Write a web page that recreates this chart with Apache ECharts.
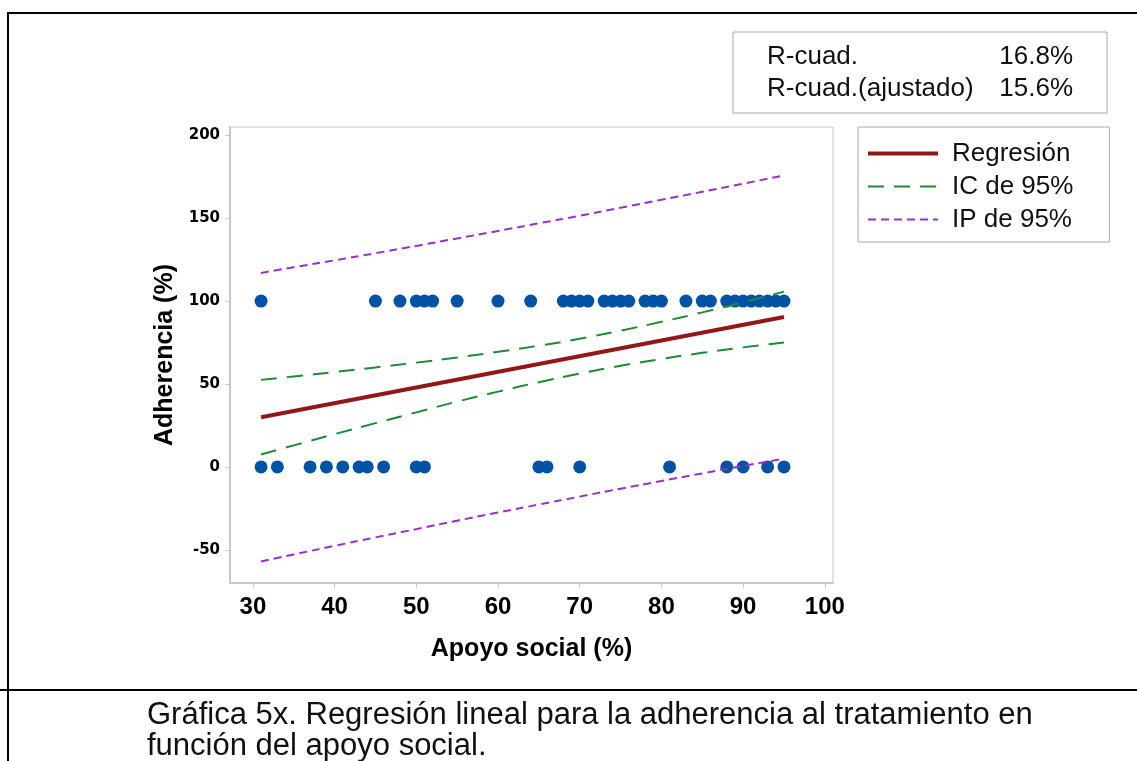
<!DOCTYPE html>
<html>
<head>
<meta charset="utf-8">
<script src="https://cdn.jsdelivr.net/npm/echarts@6/dist/echarts.min.js"></script>
<style>
html,body{margin:0;padding:0;background:#fff;}
#chart{width:1137px;height:761px;}
</style>
</head>
<body>
<div id="chart"></div>
<script>
// ---- data ----
const xTicks = [30, 40, 50, 60, 70, 80, 90, 100];
const yTicks = [-50, 0, 50, 100, 150, 200];

// observations with adherence = 100
const xAt100 = [31, 45, 48, 50, 51, 52, 55, 60, 64, 68, 69, 70, 71, 73, 74, 75, 76, 78, 79, 80, 83, 85, 86, 88, 89, 90, 91, 92, 93, 94, 95];
// observations with adherence = 0
const xAt0 = [31, 33, 37, 39, 41, 43, 44, 46, 50, 51, 65, 66, 70, 81, 88, 90, 93, 95];

// fitted regression line (end points)
const regX = [31, 95];
const regY = [30.0, 90.4];

// confidence / prediction bands
const bandX   = [31, 35, 40, 45, 50, 55, 60, 65, 70, 75, 80, 85, 90, 95];
const ciUpper = [52.5, 54.6, 57.2, 60.0, 62.9, 66.0, 69.4, 73.1, 77.3, 82.2, 87.5, 93.2, 99.3, 105.7];
const ciLower = [7.5, 13.0, 19.8, 26.4, 32.9, 39.4, 45.4, 51.1, 56.3, 61.0, 65.1, 68.8, 72.1, 75.1];
const piUpper = [117.0, 120.4, 124.6, 128.9, 133.3, 137.8, 142.3, 146.9, 151.5, 156.3, 161.1, 165.9, 170.8, 175.8];
const piLower = [-57.0, -52.8, -47.6, -42.5, -37.5, -32.4, -27.5, -22.7, -17.9, -13.1, -8.5, -3.9, 0.6, 5.0];

const statLabels = ['R-cuad.', 'R-cuad.(ajustado)'];
const statValues = ['16.8%', '15.6%'];
// ---------------------------------------

const pairs = (xs, ys) => xs.map((x, i) => [x, ys[i]]);
const points = xAt100.map(x => [x, 100]).concat(xAt0.map(x => [x, 0]));

const chart = echarts.init(document.getElementById('chart'));

const option = {
  animation: false,
  backgroundColor: '#ffffff',
  grid: {
    left: 230, top: 127, right: 304, bottom: 178,
    show: true, borderColor: '#c8c8c8', borderWidth: 1, containLabel: false
  },
  xAxis: {
    type: 'value', min: 27.2, max: 101,
    name: 'Apoyo social (%)', nameLocation: 'middle', nameGap: 54,
    nameTextStyle: { fontFamily: 'Liberation Sans', fontWeight: 'bold', fontSize: 25, color: '#000' },
    axisLine: { show: true, onZero: false, lineStyle: { color: '#c8c8c8', width: 2 } },
    axisTick: { show: true, customValues: xTicks, length: 5, inside: false, lineStyle: { color: '#c8c8c8', width: 1 } },
    axisLabel: { customValues: xTicks, margin: 12, fontFamily: 'Liberation Sans', fontWeight: 'bold', fontSize: 24, color: '#000' },
    splitLine: { show: false }
  },
  yAxis: {
    type: 'value', min: -70, max: 205,
    name: 'Adherencia (%)', nameLocation: 'middle', nameGap: 50, nameRotate: 90,
    nameTextStyle: { fontFamily: 'Liberation Sans', fontWeight: 'bold', fontSize: 25, color: '#000' },
    axisLine: { show: true, onZero: false, lineStyle: { color: '#c8c8c8', width: 2 } },
    axisTick: { show: true, customValues: yTicks, length: 5, lineStyle: { color: '#c8c8c8', width: 1 } },
    axisLabel: { customValues: yTicks, margin: 10, fontFamily: 'DejaVu Sans', fontWeight: 'bold', fontSize: 15, color: '#000' },
    splitLine: { show: false }
  },
  legend: {
    data: ['Regresión', 'IC de 95%', 'IP de 95%'],
    orient: 'vertical', left: 858, top: 127,
    padding: [10, 36, 6, 8],
    borderColor: '#a8a8a8', borderWidth: 1,
    itemWidth: 70, itemHeight: 14, itemGap: 0,
    itemStyle: { opacity: 0 },
    lineStyle: { width: 'inherit', type: 'inherit', color: 'inherit' },
    textStyle: { fontFamily: 'Liberation Sans', fontSize: 26, color: '#111', lineHeight: 33, padding: [0, 0, 0, 9] },
    selectedMode: false
  },
  series: [
    {
      name: 'Datos', type: 'scatter', data: points, symbol: 'circle', symbolSize: 13,
      itemStyle: { color: '#0052a5', opacity: 1 }, z: 1
    },
    {
      name: 'Regresión', type: 'line', data: pairs(regX, regY), symbol: 'none',
      lineStyle: { color: '#921818', width: 4 }, itemStyle: { color: '#921818' }, z: 4
    },
    {
      name: 'IC de 95%', type: 'line', data: pairs(bandX, ciUpper), symbol: 'none', smooth: true,
      lineStyle: { color: '#1f8a36', width: 2, type: [16, 10] }, itemStyle: { color: '#1f8a36' }, z: 3
    },
    {
      name: 'IC de 95%', type: 'line', data: pairs(bandX, ciLower), symbol: 'none', smooth: true,
      lineStyle: { color: '#1f8a36', width: 2, type: [16, 10] }, itemStyle: { color: '#1f8a36' }, z: 3
    },
    {
      name: 'IP de 95%', type: 'line', data: pairs(bandX, piUpper), symbol: 'none', smooth: true,
      lineStyle: { color: '#9a30c8', width: 2, type: [8, 5] }, itemStyle: { color: '#9a30c8' }, z: 3
    },
    {
      name: 'IP de 95%', type: 'line', data: pairs(bandX, piLower), symbol: 'none', smooth: true,
      lineStyle: { color: '#9a30c8', width: 2, type: [8, 5] }, itemStyle: { color: '#9a30c8' }, z: 3
    }
  ],
  graphic: [
    // outer frame lines
    { type: 'line', shape: { x1: 8, y1: 13, x2: 1137, y2: 13 }, style: { stroke: '#000', lineWidth: 2 } },
    { type: 'line', shape: { x1: 8, y1: 12, x2: 8, y2: 761 }, style: { stroke: '#000', lineWidth: 2 } },
    { type: 'line', shape: { x1: 0, y1: 690, x2: 1137, y2: 690 }, style: { stroke: '#000', lineWidth: 2 } },
    // statistics box
    { type: 'rect', shape: { x: 733, y: 32, width: 374, height: 81 }, style: { fill: '#fff', stroke: '#a8a8a8', lineWidth: 1 } },
    { type: 'text', x: 767, y: 57, style: { text: statLabels[0], font: '26px "Liberation Sans"', fill: '#111', textVerticalAlign: 'middle' } },
    { type: 'text', x: 767, y: 89, style: { text: statLabels[1], font: '26px "Liberation Sans"', fill: '#111', textVerticalAlign: 'middle' } },
    { type: 'text', x: 1073, y: 57, style: { text: statValues[0], font: '26px "Liberation Sans"', fill: '#111', textAlign: 'right', textVerticalAlign: 'middle' } },
    { type: 'text', x: 1073, y: 89, style: { text: statValues[1], font: '26px "Liberation Sans"', fill: '#111', textAlign: 'right', textVerticalAlign: 'middle' } },
    // caption
    { type: 'text', x: 147, y: 715, style: { text: 'Gráfica 5x. Regresión lineal para la adherencia al tratamiento en', font: '31px "Liberation Sans"', fill: '#111', textVerticalAlign: 'middle' } },
    { type: 'text', x: 147, y: 746, style: { text: 'función del apoyo social.', font: '31px "Liberation Sans"', fill: '#111', textVerticalAlign: 'middle' } }
  ]
};
chart.setOption(option);
</script>
</body>
</html>
